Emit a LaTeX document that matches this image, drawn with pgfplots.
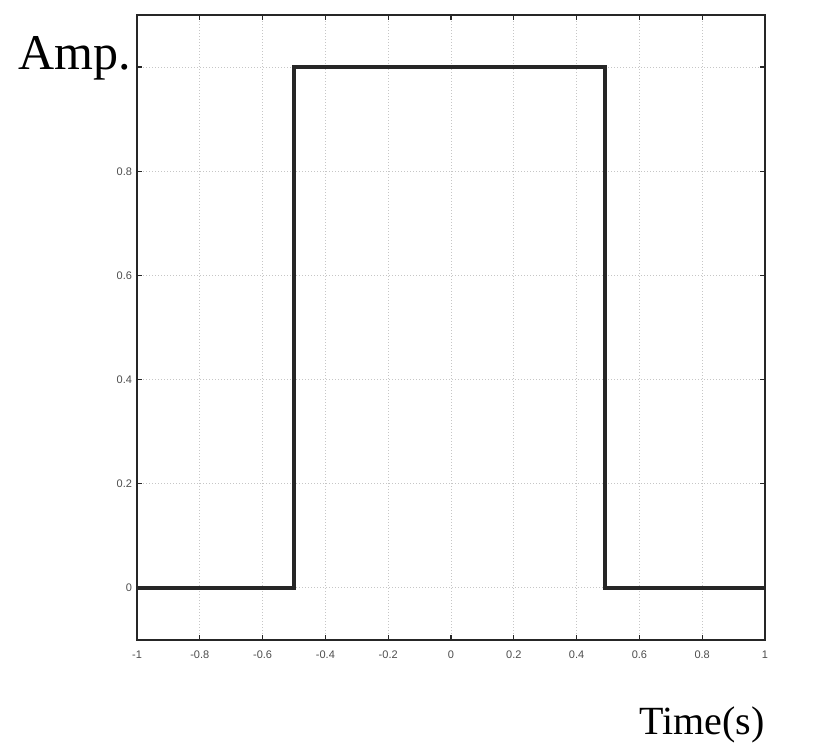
\documentclass[border=0pt]{standalone}
\usepackage{pgfplots}
\pgfplotsset{compat=1.18}
\usepackage{fontspec}
\setmainfont{Liberation Serif}
\newfontfamily\tickfont{Liberation Sans}
\definecolor{linec}{HTML}{262626}
\begin{document}
\begin{tikzpicture}
\path[use as bounding box] (0,0) rectangle (407pt,374.5pt);
\begin{axis}[
  at={(68.5pt,54.5pt)}, anchor=south west,
  scale only axis, width=314pt, height=312.5pt,
  xmin=-1, xmax=1, ymin=-0.1, ymax=1.1,
  xtick={-1,-0.8,...,1},
  xticklabels={-1,-0.8,-0.6,-0.4,-0.2,0,0.2,0.4,0.6,0.8,1},
  ytick={0,0.2,0.4,0.6,0.8,1},
  yticklabels={0,0.2,0.4,0.6,0.8,{}},
  tick align=inside, major tick length=2.5pt,
  tick style={linec, line width=0.6pt},
  ticklabel style={font=\tickfont\fontsize{5.5}{6}\selectfont, text=black!70},
  xticklabel style={yshift=-2pt},
  yticklabel style={xshift=1pt},
  /pgf/number format/assume math mode=true,
  grid=major,
  major grid style={gray!45, line width=0.5pt, densely dotted},
  axis line style={linec, line width=1pt},
]
\addplot[linec, line width=2pt] coordinates {(-1,0) (-0.5,0) (-0.5,1) (0.49,1) (0.49,0) (1,0)};
\end{axis}
\node[anchor=base west, font=\fontsize{25}{28}\selectfont, inner sep=0pt] at (9pt,339.5pt) {Amp.};
\node[anchor=base east, font=\fontsize{20}{24}\selectfont, inner sep=0pt] at (382.5pt,7pt) {Time(s)};
\end{tikzpicture}
\end{document}
